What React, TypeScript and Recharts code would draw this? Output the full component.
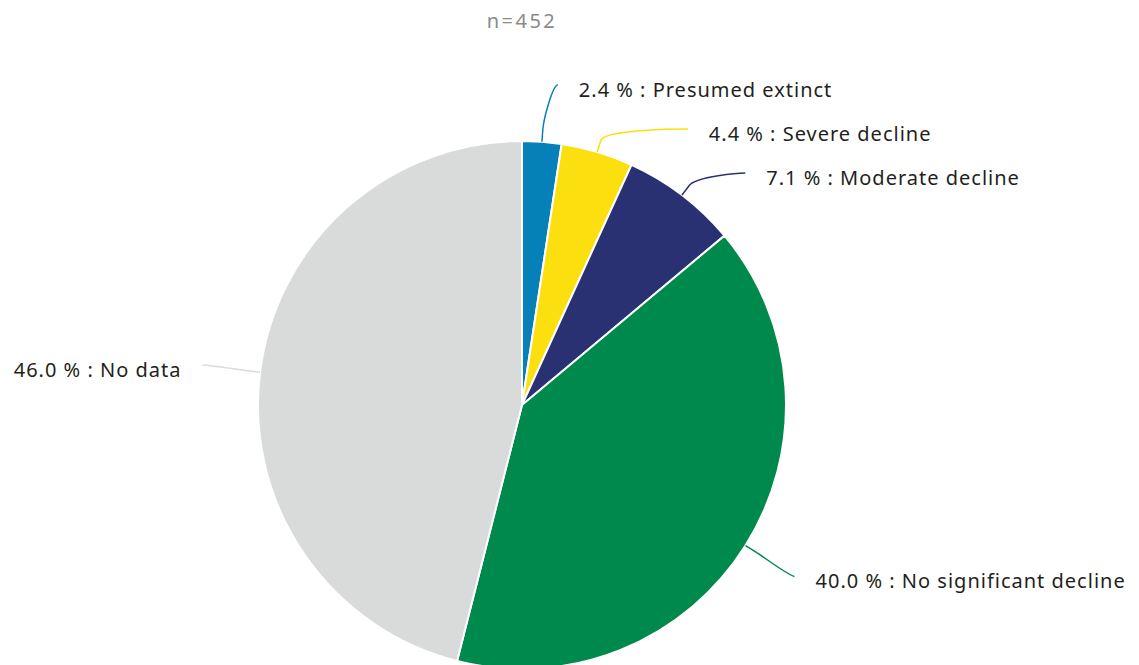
import React from "react";
import { PieChart, Pie, Cell } from "recharts";

const categories = ["Presumed extinct", "Severe decline", "Moderate decline", "No significant decline", "No data"];
const shares = [2.4, 4.4, 7.1, 40.0, 46.0];
const colors = ["#0580b9", "#fcdf0f", "#2a3173", "#00894d", "#d9dada"];
const sampleLabel = "n=452";

const W = 1139;
const H = 665;
const CX = 522;
const CY = 405;
const R = 264;
const END_R = R + 58;
const TEXT_GAP = 21;
const SPACING = 44;
const MIN_END_Y = CY - R - 56;
const MAX_END_Y = H - 20;
const FONT = "'Noto Sans', 'Open Sans', sans-serif";

const data = categories.map((name, i) => ({ name, value: shares[i] }));

// Label layout: natural end positions on a circle, then distributed per side to avoid overlap
function computeLayout() {
  const total = shares.reduce((a, b) => a + b, 0);
  let acc = 0;
  const items = shares.map((v, i) => {
    const mid = ((acc + v / 2) / total) * 2 * Math.PI; // clockwise from top
    acc += v;
    const right = Math.sin(mid) >= 0;
    return { i, mid, right, y: CY - END_R * Math.cos(mid) };
  });
  const result: Record<number, { x: number; y: number; right: boolean }> = {};
  [true, false].forEach((side) => {
    const list = items.filter((it) => it.right === side).sort((a, b) => a.y - b.y);
    type G = { members: typeof list; start: number };
    let groups: G[] = list.map((it) => ({ members: [it], start: it.y }));
    let changed = true;
    while (changed) {
      changed = false;
      groups.forEach((g) => {
        const mean = g.members.reduce((s, m) => s + m.y, 0) / g.members.length;
        let start = mean - ((g.members.length - 1) * SPACING) / 2;
        start = Math.max(MIN_END_Y, Math.min(start, MAX_END_Y - (g.members.length - 1) * SPACING));
        g.start = start;
      });
      for (let k = 0; k < groups.length - 1; k++) {
        const a = groups[k];
        const b = groups[k + 1];
        const aEnd = a.start + (a.members.length - 1) * SPACING;
        if (b.start - aEnd < SPACING) {
          groups.splice(k, 2, { members: [...a.members, ...b.members], start: 0 });
          changed = true;
          break;
        }
      }
    }
    groups.forEach((g) => {
      g.members.forEach((m, j) => {
        const y = g.start + j * SPACING;
        const dy = Math.max(-END_R, Math.min(END_R, y - CY));
        const dx = Math.sqrt(END_R * END_R - dy * dy);
        result[m.i] = { x: CX + (side ? dx : -dx), y, right: side };
      });
    });
  });
  return result;
}

const layout = computeLayout();
const RAD = Math.PI / 180;

const renderLabel = (props: any) => {
  const { cx, cy, midAngle, outerRadius, index, fill } = props;
  const pos = layout[index];
  if (!pos) return null;
  const cos = Math.cos(-midAngle * RAD);
  const sin = Math.sin(-midAngle * RAD);
  const tx = cx + outerRadius * cos;
  const ty = cy + outerRadius * sin;
  const bx = cx + (outerRadius + 12) * cos;
  const by = cy + (outerRadius + 12) * sin;
  const ex = pos.x;
  const ey = pos.y;
  const d = `M ${ex} ${ey} C ${ex + (pos.right ? -5 : 5)} ${ey} ${2 * bx - tx} ${2 * by - ty} ${bx} ${by} L ${tx} ${ty}`;
  const text = `${shares[index].toFixed(1)} % : ${categories[index]}`;
  return (
    <g key={`lbl-${index}`}>
      <path d={d} stroke={fill} strokeWidth={1.5} fill="none" />
      <text
        x={ex + (pos.right ? TEXT_GAP : -TEXT_GAP)}
        y={ey + 4}
        textAnchor={pos.right ? "start" : "end"}
        dominantBaseline="central"
        fill="#231f20"
        fontSize={20}
        letterSpacing={1}
        fontFamily={FONT}
      >
        {text}
      </text>
    </g>
  );
};

export default function App() {
  return (
    <div style={{ position: "absolute", left: 0, top: 0, width: W, height: H, background: "#fff", fontFamily: FONT }}>
      <div
        style={{
          position: "absolute",
          left: CX - 100,
          width: 200,
          top: 8,
          textAlign: "center",
          color: "#8a8a8a",
          fontSize: 20,
          lineHeight: "26px",
          letterSpacing: 2.5,
        }}
      >
        {sampleLabel}
      </div>
      <PieChart
        width={W}
        height={H}
        margin={{ top: 0, right: 0, bottom: 0, left: 0 }}
        style={{ position: "absolute", left: 0, top: 0 }}
      >
        <Pie
          data={data}
          dataKey="value"
          nameKey="name"
          cx={CX}
          cy={CY}
          outerRadius={R}
          startAngle={90}
          endAngle={-270}
          stroke="#ffffff"
          strokeWidth={2}
          isAnimationActive={false}
          label={renderLabel}
          labelLine={false}
        >
          {data.map((d, i) => (
            <Cell key={d.name} fill={colors[i]} />
          ))}
        </Pie>
      </PieChart>
    </div>
  );
}
